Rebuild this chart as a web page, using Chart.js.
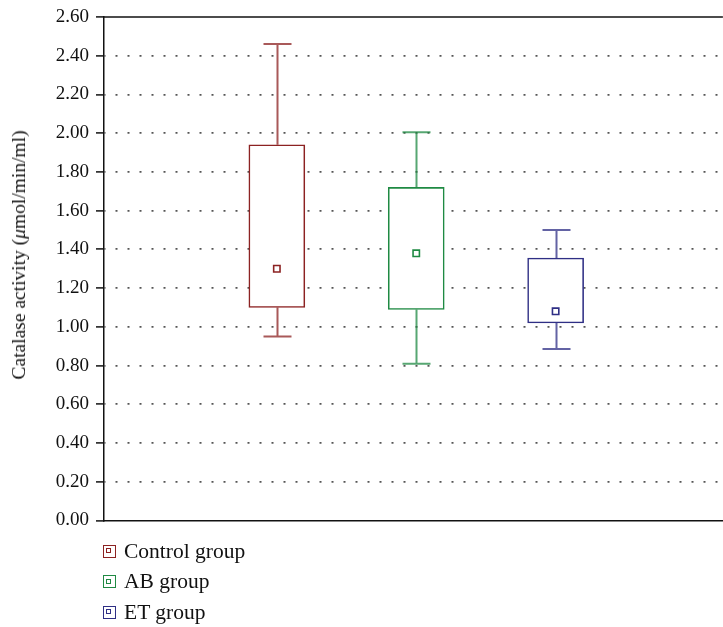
<!DOCTYPE html>
<html>
<head>
<meta charset="utf-8">
<script src="https://cdn.jsdelivr.net/npm/chart.js@4/dist/chart.umd.min.js"></script>
<style>
  html, body { margin:0; padding:0; background:#fff; }
  body { width:723px; height:627px; position:relative; overflow:hidden; font-family:"Liberation Serif","DejaVu Serif",serif; }
  #wrap { position:absolute; left:0; top:0; width:729px; height:537px; }
  #ytitle { position:absolute; left:19px; top:255px; transform:translate(-50%,-50%) rotate(-90deg); white-space:nowrap; font-size:19.5px; color:#111; }
  #legend { position:absolute; left:103px; top:536px; font-size:21.5px; color:#111; }
  .item { height:30.5px; display:flex; align-items:center; }
  .sw { box-sizing:border-box; width:13px; height:13px; border:1.6px solid; margin-right:8px; position:relative; }
  .sw::after { content:''; box-sizing:border-box; position:absolute; left:2.4px; top:2.4px; width:5px; height:5px; border:1.3px solid; border-color:inherit; }
</style>
</head>
<body>
<div id="wrap"><canvas id="c"></canvas></div>
<div id="ytitle">Catalase activity (<i>μ</i>mol/min/ml)</div>
<div id="legend"></div>
<script>
// box plot data
const groups    = ['Control group', 'AB group', 'ET group'];
const xPos      = [1, 2, 3];
const whiskerLo = [0.95, 0.81, 0.885];
const boxLo     = [1.10, 1.09, 1.02];
const boxHi     = [1.94, 1.72, 1.355];
const whiskerHi = [2.46, 2.005, 1.50];
const means     = [1.30, 1.38, 1.08];
const colors    = ['#8c2222', '#1f8a43', '#2f2f85'];
const yTicks    = [0, 0.2, 0.4, 0.6, 0.8, 1.0, 1.2, 1.4, 1.6, 1.8, 2.0, 2.2, 2.4, 2.6];

// legend
const legend = document.getElementById('legend');
groups.forEach((g, i) => {
  legend.innerHTML += `<div class="item"><span class="sw" style="border-color:${colors[i]}"></span>${g}</div>`;
});

// whiskers + top frame line
const boxPlugin = {
  id: 'whiskers',
  beforeDatasetsDraw(chart) {
    const { ctx, scales: { x, y }, chartArea } = chart;
    ctx.save();
    xPos.forEach((xv, i) => {
      const cx = Math.round(x.getPixelForValue(xv)) + 0.5;
      const half = 14;
      ctx.strokeStyle = colors[i];
      ctx.globalAlpha = 0.75;
      ctx.lineWidth = 2;
      ctx.beginPath();
      ctx.moveTo(cx, y.getPixelForValue(boxHi[i]));
      ctx.lineTo(cx, y.getPixelForValue(whiskerHi[i]));
      ctx.moveTo(cx - half, y.getPixelForValue(whiskerHi[i]));
      ctx.lineTo(cx + half, y.getPixelForValue(whiskerHi[i]));
      ctx.moveTo(cx, y.getPixelForValue(boxLo[i]));
      ctx.lineTo(cx, y.getPixelForValue(whiskerLo[i]));
      ctx.moveTo(cx - half, y.getPixelForValue(whiskerLo[i]));
      ctx.lineTo(cx + half, y.getPixelForValue(whiskerLo[i]));
      ctx.stroke();
    });
    ctx.globalAlpha = 1;
    ctx.strokeStyle = '#111';
    ctx.lineWidth = 1.5;
    ctx.beginPath();
    const ty = y.getPixelForValue(2.6);
    ctx.moveTo(chartArea.left, ty);
    ctx.lineTo(chartArea.right, ty);
    ctx.stroke();
    ctx.restore();
  }
};

new Chart(document.getElementById('c'), {
  type: 'bar',
  data: {
    datasets: [
      {
        type: 'bar',
        data: xPos.map((xv, i) => ({ x: xv, y: [boxLo[i], boxHi[i]] })),
        backgroundColor: '#fff',
        borderColor: colors,
        borderWidth: 1.6,
        borderSkipped: false,
        barThickness: 56,
        order: 2,
      },
      {
        type: 'scatter',
        data: xPos.map((xv, i) => ({ x: xv, y: means[i] })),
        pointStyle: 'rect',
        pointRadius: 4.5,
        pointBorderWidth: 1.6,
        pointBackgroundColor: '#fff',
        pointBorderColor: colors,
        order: 1,
      }
    ]
  },
  options: {
    responsive: true,
    maintainAspectRatio: false,
    animation: false,
    layout: { padding: { top: 17, right: 0, bottom: 10, left: 0 } },
    plugins: { legend: { display: false }, tooltip: { enabled: false } },
    scales: {
      x: {
        type: 'linear',
        min: -0.24,
        max: 4.2,
        offset: false,
        ticks: { display: false },
        grid: { display: false, drawTicks: false, offset: false },
        border: { display: true, color: '#111', width: 1.5 },
        afterFit: s => { s.height = 0; },
      },
      y: {
        min: 0,
        max: 2.6,
        afterBuildTicks: s => { s.ticks = yTicks.map(v => ({ value: v })); },
        ticks: {
          color: '#111',
          font: { family: 'Liberation Serif', size: 19, lineHeight: 1 },
          padding: 7,
          callback: v => v.toFixed(2),
        },
        grid: {
          color: ctx => (ctx.tick && (ctx.tick.value === 0 || ctx.tick.value === 2.6)) ? 'rgba(0,0,0,0)' : '#555',
          lineWidth: 1.8,
          tickLength: 8,
          tickColor: '#111',
          tickWidth: 1.5,
          tickBorderDash: [],
        },
        border: { display: true, color: '#111', width: 1.5, dash: [2, 10], dashOffset: -11 },
        afterFit: s => { s.width = 104; },
      }
    }
  },
  plugins: [boxPlugin]
});
</script>
</body>
</html>
